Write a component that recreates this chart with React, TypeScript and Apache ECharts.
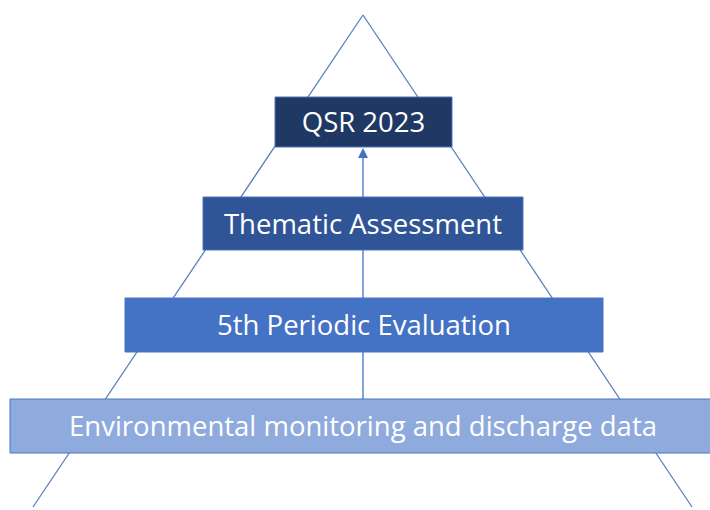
import React, { useEffect, useRef } from "react";
import * as echarts from "echarts";

// Pyramid levels, top to bottom
const levelLabels = [
  "QSR 2023",
  "Thematic Assessment",
  "5th Periodic Evaluation",
  "Environmental monitoring and discharge data",
];
// Box extents in diagram coordinates (pixels of the 710x510 frame)
const boxLeft = [275, 203, 125, 10];
const boxRight = [452, 523, 603, 712];
const boxTop = [97, 197, 298, 399];
const boxBottom = [147, 250, 352, 453];
const boxColors = ["#203864", "#2f5597", "#4472c4", "#8faadc"];

// Pyramid outline: left foot, apex, right foot
const pyramidX = [33, 363, 692];
const pyramidY = [507, 15, 507];

// Central flow arrow (from bottom level up to top level)
const arrowX = [363, 363];
const arrowY = [399, 148];

export default function App() {
  const ref = useRef<HTMLDivElement>(null);
  useEffect(() => {
    if (!ref.current) return;
    const chart = echarts.init(ref.current, undefined, { renderer: "svg" });
    const boxData = levelLabels.map((l, i) => [boxLeft[i], boxTop[i], boxRight[i], boxBottom[i], i]);
    chart.setOption({
      animation: false,
      backgroundColor: "#ffffff",
      grid: { left: 0, right: 0, top: 0, bottom: 0 },
      xAxis: { type: "value", min: 0, max: 710, show: false },
      yAxis: { type: "value", min: 0, max: 510, inverse: true, show: false },
      series: [
        {
          type: "line",
          data: pyramidX.map((x, i) => [x, pyramidY[i]]),
          symbol: "none",
          lineStyle: { color: "#5b7fbf", width: 1.3 },
          z: 1,
          silent: true,
        },
        {
          type: "custom",
          z: 2,
          silent: true,
          data: [[arrowX[0], arrowY[0], arrowX[1], arrowY[1]]],
          renderItem: (params: any, api: any) => {
            const p0 = api.coord([api.value(0), api.value(1)]);
            const p1 = api.coord([api.value(2), api.value(3)]);
            return {
              type: "group",
              children: [
                {
                  type: "line",
                  shape: { x1: p0[0], y1: p0[1], x2: p1[0], y2: p1[1] + 8 },
                  style: { stroke: "#4472c4", lineWidth: 1.3 },
                },
                {
                  type: "polygon",
                  shape: {
                    points: [
                      [p1[0], p1[1]],
                      [p1[0] - 5, p1[1] + 10],
                      [p1[0] + 5, p1[1] + 10],
                    ],
                  },
                  style: { fill: "#4472c4" },
                },
              ],
            };
          },
        },
        {
          type: "custom",
          z: 3,
          silent: true,
          data: boxData,
          renderItem: (params: any, api: any) => {
            const a = api.coord([api.value(0), api.value(1)]);
            const b = api.coord([api.value(2), api.value(3)]);
            const i = api.value(4);
            return {
              type: "group",
              children: [
                {
                  type: "rect",
                  shape: { x: a[0], y: a[1], width: b[0] - a[0], height: b[1] - a[1] },
                  style: { fill: boxColors[i], stroke: "#4a74bd", lineWidth: 1 },
                },
                {
                  type: "text",
                  style: {
                    text: levelLabels[i],
                    x: (a[0] + Math.min(b[0], 710)) / 2 + (i === 3 ? 3 : 0),
                    y: (a[1] + b[1]) / 2 - 0.5,
                    align: "center",
                    verticalAlign: "middle",
                    fill: "#ffffff",
                    fontSize: 27.5,
                    fontFamily: "Open Sans",
                  },
                },
              ],
            };
          },
        },
      ],
    });
    return () => chart.dispose();
  }, []);
  return <div ref={ref} style={{ width: 710, height: 510, position: "absolute", left: 0, top: 0 }} />;
}
